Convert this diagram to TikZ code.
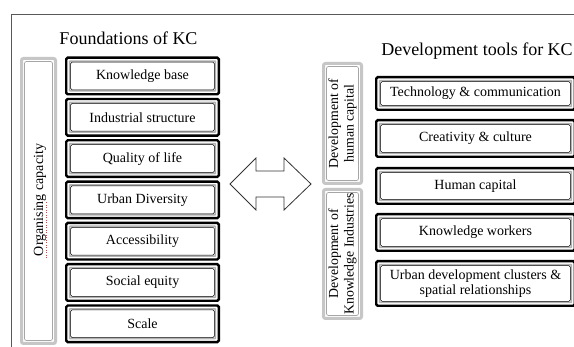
\documentclass[tikz,border=0pt]{standalone}
\usepackage{fontspec}
\setmainfont{Liberation Serif}
\begin{document}
\begin{tikzpicture}[x=1pt,y=-1pt,
  boxfont/.style={font=\fontsize{14}{15.5}\selectfont},
  fbox/.style={draw=black, line width=2.4pt, rounded corners=1.5pt, inner sep=0pt, align=center, boxfont,
    path picture={
      \draw[gray!60, line width=1.6pt, rounded corners=0.5pt] ([xshift=3.4pt,yshift=3.4pt]path picture bounding box.south west) rectangle ([xshift=-3.4pt,yshift=-3.4pt]path picture bounding box.north east);
      \draw[black, line width=0.5pt] ([xshift=4.4pt,yshift=4.4pt]path picture bounding box.south west) rectangle ([xshift=-4.4pt,yshift=-4.4pt]path picture bounding box.north east);
    }},
  lbox/.style={fbox, minimum width=152.6pt, minimum height=36.6pt},
  rbox/.style={fbox, minimum width=198.6pt},
  gbox/.style={draw=gray!45, line width=3pt, rounded corners=2pt, inner sep=0pt,
    path picture={
      \draw[gray!70, line width=0.7pt] ([xshift=3pt,yshift=3pt]path picture bounding box.south west) rectangle ([xshift=-3pt,yshift=-3pt]path picture bounding box.north east);
    }},
  vtext/.style={rotate=90, align=center, inner sep=0pt, font=\fontsize{13.8}{15.5}\selectfont},
  title/.style={font=\fontsize{18}{20}\selectfont, inner sep=0pt}
]
\useasboundingbox (0,0) rectangle (574,347);
\fill[white] (0,0) rectangle (574,347);
% frame
\draw[gray!70!black, line width=0.8pt] (11,347) -- (11,14) -- (574,14);

% titles
\node[title] (t1) at (128.5,38) {Foundations of KC};
\node[title] (t2) at (477,51) {Development tools for KC};

% organising capacity
\node[gbox, minimum width=34pt, minimum height=285pt] (org) at (38.5,201) {};
\node[vtext, font=\fontsize{14}{16}\selectfont] (orgt) at (40,200) {Organising capacity};
\draw[red!80, line width=0.5pt, dotted] (46.5,258) -- (46.5,201);

% left boxes
\node[lbox] (k1) at (142.5,76.0) {Knowledge base};
\node[lbox] (k2) at (142.5,117.3) {Industrial structure};
\node[lbox] (k3) at (142.5,158.6) {Quality of life};
\node[lbox] (k4) at (142.5,199.9) {Urban Diversity};
\node[lbox] (k5) at (142.5,241.2) {Accessibility};
\node[lbox] (k6) at (142.5,282.5) {Social equity};
\node[lbox] (k7) at (142.5,323.8) {Scale};

% double arrow
\draw[gray!40!black, line width=0.8pt, line join=miter, fill=white]
  (230,184) -- (256,158) -- (256,171) -- (284,171) -- (284,158) -- (311,184)
  -- (284,210) -- (284,197) -- (256,197) -- (256,210) -- cycle;

% middle gray boxes
\node[gbox, minimum width=38pt, minimum height=120pt] (hc) at (342.5,123.5) {};
\node[vtext] (hct) at (342.5,123.5) {Development of\\human capital};
\node[gbox, minimum width=38pt, minimum height=129pt] (ki) at (342.5,254) {};
\node[vtext] (kit) at (342.5,254) {Development of\\Knowledge Industries};

% right boxes
\node[rbox, minimum height=32.6pt] (r1) at (475.5,93.5) {Technology \& communication};
\node[rbox, minimum height=36.6pt] (r2) at (475.5,138.5) {Creativity \& culture};
\node[rbox, minimum height=35.6pt] (r3) at (475.5,186) {Human capital};
\node[rbox, minimum height=36.6pt] (r4) at (475.5,232.5) {Knowledge workers};
\node[rbox, minimum height=44.6pt] (r5) at (475.5,283.5) {Urban development clusters \&\\spatial relationships};
\end{tikzpicture}
\end{document}
